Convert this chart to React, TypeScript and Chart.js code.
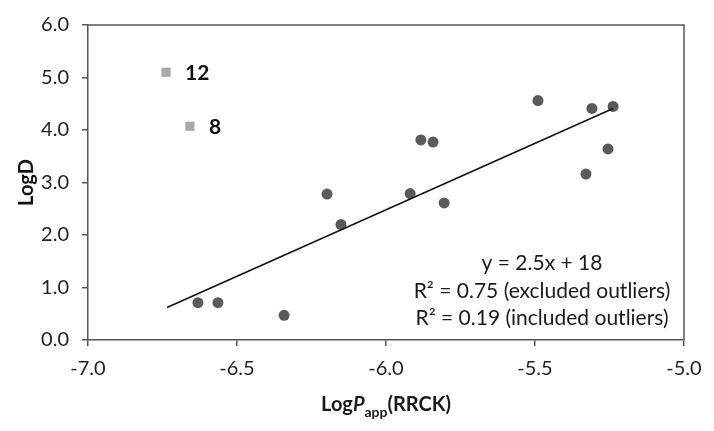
import React, { useEffect, useRef } from "react";
import { Chart, registerables } from "chart.js";

Chart.register(...registerables);

// Compounds within the fit (x = LogPapp(RRCK), y = LogD)
const fitX = [-6.631, -6.564, -6.342, -6.198, -6.151, -5.919, -5.883, -5.842, -5.805, -5.49, -5.309, -5.238, -5.255, -5.329];
const fitY = [0.71, 0.71, 0.47, 2.78, 2.2, 2.79, 3.81, 3.77, 2.61, 4.56, 4.41, 4.45, 3.64, 3.16];

// Outliers
const outlierX = [-6.738, -6.658];
const outlierY = [5.1, 4.07];
const outlierLabels = ["12", "8"];

// Trend line endpoints
const trendX = [-6.735, -5.238];
const trendY = [0.62, 4.41];

const xTicks = [-7.0, -6.5, -6.0, -5.5, -5.0];
const yTicks = [0, 1, 2, 3, 4, 5, 6];

const annotationLines = ["y = 2.5x + 18", "R\u00B2 = 0.75 (excluded outliers)", "R\u00B2 = 0.19 (included outliers)"];

const FONT = "Lato, 'Open Sans', sans-serif";

const overlayPlugin = {
  id: "overlay",
  afterDraw(chart: any) {
    const ctx = chart.ctx;
    const { left, right, top, bottom } = chart.chartArea;
    ctx.save();
    // top/right frame
    ctx.strokeStyle = "#555";
    ctx.lineWidth = 1.5;
    ctx.beginPath();
    ctx.moveTo(left, top);
    ctx.lineTo(right, top);
    ctx.lineTo(right, bottom);
    ctx.stroke();

    // outlier labels
    const xs = chart.scales.x;
    const ys = chart.scales.y;
    ctx.fillStyle = "#111";
    ctx.font = `bold 21px ${FONT}`;
    ctx.textAlign = "left";
    ctx.textBaseline = "middle";
    outlierLabels.forEach((lab, i) => {
      const px = xs.getPixelForValue(outlierX[i]);
      const py = ys.getPixelForValue(outlierY[i]);
      ctx.fillText(lab, px + 19, py + 1);
    });

    // annotation
    ctx.font = `21px ${FONT}`;
    ctx.fillStyle = "#1a1a1a";
    ctx.textAlign = "center";
    ctx.textBaseline = "alphabetic";
    const cx = right - 142;
    annotationLines.forEach((t, i) => {
      ctx.fillText(t, cx, 270 + i * 27.5);
    });

    // y title
    ctx.save();
    ctx.translate(27, (top + bottom) / 2);
    ctx.rotate(-Math.PI / 2);
    ctx.font = `bold 20px ${FONT}`;
    ctx.textAlign = "center";
    ctx.textBaseline = "middle";
    ctx.fillStyle = "#111";
    ctx.fillText("LogD", 0, 0);
    ctx.restore();

    // x title: LogPapp(RRCK)
    const parts = [
      { t: "Log", f: `bold 20px ${FONT}`, dy: 0 },
      { t: "P", f: `italic bold 20px ${FONT}`, dy: 0 },
      { t: "app", f: `bold 14px ${FONT}`, dy: 6 },
      { t: "(RRCK)", f: `bold 20px ${FONT}`, dy: 0 },
    ];
    let total = 0;
    parts.forEach((p) => {
      ctx.font = p.f;
      total += ctx.measureText(p.t).width;
    });
    let x = (left + right) / 2 - total / 2;
    const base = 411;
    ctx.textAlign = "left";
    ctx.textBaseline = "alphabetic";
    parts.forEach((p) => {
      ctx.font = p.f;
      ctx.fillText(p.t, x, base + p.dy);
      x += ctx.measureText(p.t).width;
    });
    ctx.restore();
  },
};

export default function App() {
  const ref = useRef<HTMLCanvasElement | null>(null);
  useEffect(() => {
    document.body.style.margin = "0";
    if (!ref.current) return;
    const chart = new Chart(ref.current, {
      type: "scatter",
      data: {
        datasets: [
          {
            label: "trend",
            data: trendX.map((x, i) => ({ x, y: trendY[i] })),
            showLine: true,
            borderColor: "#111",
            borderWidth: 1.5,
            pointRadius: 0,
            fill: false,
          },
          {
            label: "fit",
            data: fitX.map((x, i) => ({ x, y: fitY[i] })),
            pointStyle: "circle",
            pointRadius: 5.5,
            backgroundColor: "#5a5a5a",
            borderColor: "#5a5a5a",
            borderWidth: 0,
          },
          {
            label: "outliers",
            data: outlierX.map((x, i) => ({ x, y: outlierY[i] })),
            pointStyle: "rect",
            pointRadius: 6.5,
            backgroundColor: "#a9a9a9",
            borderColor: "#a9a9a9",
            borderWidth: 0,
          },
        ],
      },
      options: {
        responsive: false,
        animation: false,
        layout: { padding: { left: 0, right: 30, top: 19, bottom: 0 } },
        plugins: { legend: { display: false }, tooltip: { enabled: false } },
        scales: {
          x: {
            type: "linear",
            min: -7,
            max: -5,
            afterBuildTicks: (s: any) => {
              s.ticks = xTicks.map((v) => ({ value: v }));
            },
            afterFit: (s: any) => {
              s.height = 91;
            },
            grid: { display: true, drawOnChartArea: false, drawTicks: true, tickLength: 6, color: "#555", lineWidth: 1.5 },
            border: { display: true, color: "#555", width: 1.5 },
            ticks: {
              padding: 11,
              color: "#222",
              font: { family: FONT, size: 20 },
              callback: (v: any) => Number(v).toFixed(1),
            },
          },
          y: {
            type: "linear",
            min: 0,
            max: 6,
            afterBuildTicks: (s: any) => {
              s.ticks = yTicks.map((v) => ({ value: v }));
            },
            afterFit: (s: any) => {
              s.width = 88;
            },
            grid: { display: true, drawOnChartArea: false, drawTicks: true, tickLength: 6, color: "#555", lineWidth: 1.5 },
            border: { display: true, color: "#555", width: 1.5 },
            ticks: {
              padding: 13,
              color: "#222",
              font: { family: FONT, size: 20 },
              callback: (v: any) => Number(v).toFixed(1),
            },
          },
        },
      },
      plugins: [overlayPlugin],
    } as any);
    return () => chart.destroy();
  }, []);
  return (
    <div style={{ width: 714, height: 431, background: "#fff" }}>
      <canvas ref={ref} width={714} height={431} style={{ display: "block" }} />
    </div>
  );
}
